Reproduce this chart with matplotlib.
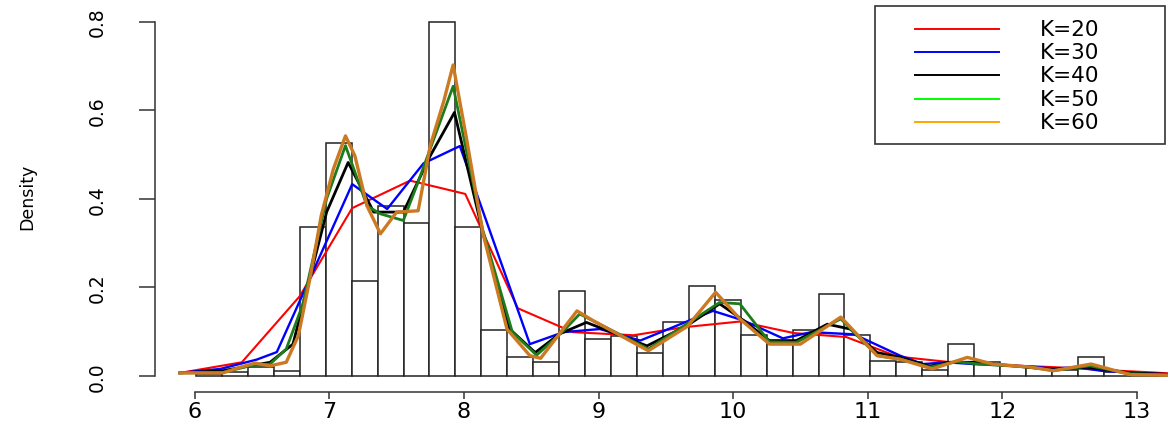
import numpy as np
import matplotlib
matplotlib.use("Agg")
import matplotlib.pyplot as plt
from matplotlib.lines import Line2D
from matplotlib.patches import Rectangle

# histogram on density scale, equal-width bins
bin_start = 6.01
bin_width = 0.1927
hist_density = [0.005, 0.008, 0.021, 0.011, 0.336, 0.526, 0.215, 0.384, 0.345, 0.798,
                0.336, 0.103, 0.042, 0.032, 0.193, 0.084, 0.091, 0.053, 0.123, 0.204,
                0.172, 0.092, 0.072, 0.103, 0.185, 0.092, 0.033, 0.032, 0.014, 0.072,
                0.031, 0.023, 0.018, 0.013, 0.042, 0.008, 0.004, 0.002]

# fitted density curves, one per K
k20_x = [5.89, 6.35, 6.78, 7.17, 7.60, 8.01, 8.40, 8.81, 9.26, 9.63, 10.05, 10.45, 10.84,
         11.22, 11.59, 11.98, 12.38, 12.73, 13.12, 13.40]
k20_y = [0.007, 0.031, 0.180, 0.379, 0.441, 0.411, 0.153, 0.099, 0.092, 0.110, 0.123, 0.097,
         0.088, 0.044, 0.032, 0.025, 0.020, 0.014, 0.008, 0.003]

k30_x = [5.89, 6.19, 6.46, 6.61, 7.17, 7.43, 7.70, 7.97, 8.49, 8.74, 9.01, 9.31, 9.85, 10.08,
         10.37, 10.58, 10.90, 11.24, 11.41, 11.59, 11.78, 12.18, 12.38, 12.55, 12.73, 12.97, 13.40]
k30_y = [0.007, 0.016, 0.037, 0.054, 0.433, 0.377, 0.480, 0.519, 0.072, 0.099, 0.106, 0.080,
         0.147, 0.125, 0.085, 0.099, 0.094, 0.046, 0.027, 0.031, 0.027, 0.022, 0.017, 0.020,
         0.012, 0.007, 0.002]

k40_x = [5.89, 6.21, 6.41, 6.56, 6.73, 6.98, 7.14, 7.33, 7.55, 7.75, 7.93, 8.14, 8.34, 8.53,
         8.71, 8.91, 9.36, 9.66, 9.90, 10.08, 10.27, 10.47, 10.70, 10.87, 11.07, 11.24, 11.46,
         11.61, 11.81, 12.38, 12.63, 12.95, 13.40]
k40_y = [0.007, 0.012, 0.023, 0.031, 0.072, 0.370, 0.482, 0.370, 0.370, 0.497, 0.595, 0.324,
         0.106, 0.053, 0.095, 0.121, 0.068, 0.114, 0.163, 0.125, 0.080, 0.080, 0.117, 0.106,
         0.053, 0.042, 0.022, 0.031, 0.031, 0.014, 0.020, 0.007, 0.002]

k50_x = [5.89, 6.21, 6.41, 6.56, 6.68, 6.80, 6.98, 7.12, 7.28, 7.38, 7.55, 7.65, 7.92, 8.14,
         8.36, 8.54, 8.74, 8.86, 9.37, 9.90, 10.05, 10.27, 10.47, 10.80, 11.07, 11.24, 11.46,
         11.66, 11.83, 12.21, 12.38, 12.65, 12.95, 13.40]
k50_y = [0.007, 0.008, 0.023, 0.027, 0.061, 0.159, 0.400, 0.520, 0.384, 0.366, 0.351, 0.430,
         0.654, 0.330, 0.099, 0.047, 0.102, 0.140, 0.061, 0.166, 0.163, 0.077, 0.076, 0.129,
         0.046, 0.038, 0.020, 0.032, 0.027, 0.020, 0.012, 0.023, 0.005, 0.001]

k60_x = [5.89, 6.21, 6.34, 6.45, 6.56, 6.68, 6.77, 6.86, 6.94, 7.03, 7.12, 7.19, 7.28, 7.38,
         7.50, 7.66, 7.75, 7.85, 7.92, 8.02, 8.14, 8.32, 8.49, 8.57, 8.84, 8.96, 9.37, 9.66,
         9.87, 10.05, 10.27, 10.50, 10.80, 11.07, 11.24, 11.48, 11.74, 11.93, 12.21, 12.38,
         12.66, 12.95, 13.40]
k60_y = [0.007, 0.007, 0.020, 0.029, 0.023, 0.031, 0.091, 0.226, 0.362, 0.467, 0.542, 0.497,
         0.384, 0.321, 0.370, 0.373, 0.520, 0.620, 0.702, 0.535, 0.324, 0.106, 0.046, 0.040,
         0.147, 0.125, 0.057, 0.112, 0.189, 0.129, 0.072, 0.072, 0.133, 0.046, 0.038, 0.016,
         0.042, 0.027, 0.020, 0.012, 0.027, 0.003, 0.001]

labels = ["K=20", "K=30", "K=40", "K=50", "K=60"]
curves = [(k20_x, k20_y), (k30_x, k30_y), (k40_x, k40_y), (k50_x, k50_y), (k60_x, k60_y)]
line_colors = ["#ff0000", "#0000ff", "#000000", "#1c7c1c", "#cc7a22"]
legend_colors = ["#ff0000", "#0000ff", "#000000", "#00ff00", "#ffa500"]
line_widths = [1.5, 1.7, 2.0, 2.0, 2.4]

xticks = [6, 7, 8, 9, 10, 11, 12, 13]
yticks = [0.0, 0.2, 0.4, 0.6, 0.8]

W, H = 1168, 427
fig = plt.figure(figsize=(W / 100, H / 100), dpi=100)
ax = fig.add_axes([155 / W, 1 - 392.7 / H, 1 - 155 / W, (392.7 - 8.4) / H])

lefts = bin_start + bin_width * np.arange(len(hist_density))
ax.bar(lefts, hist_density, width=bin_width, align="edge", color="white",
       edgecolor="#222222", linewidth=1.1, zorder=1)

for (xs, ys), c, lw in zip(curves, line_colors, line_widths):
    ax.plot(xs, ys, color=c, lw=lw, zorder=2)

ax.set_xlim(5.705, 13.231)
ax.set_ylim(-0.0354, 0.832)

for s in ["top", "right"]:
    ax.spines[s].set_visible(False)
ax.spines["left"].set_bounds(0, 0.8)
ax.spines["bottom"].set_bounds(6, 13)
for s in ["left", "bottom"]:
    ax.spines[s].set_color("#333333")
    ax.spines[s].set_linewidth(1.1)

ax.set_xticks(xticks)
ax.set_xticklabels([str(t) for t in xticks])
ax.set_yticks(yticks)
ax.set_yticklabels([f"{t:.1f}" for t in yticks])
ax.tick_params(axis="x", length=4.8, width=1.1, color="#333333", pad=2, labelsize=16)
ax.tick_params(axis="y", length=11.5, width=1.1, color="#333333", pad=30, labelsize=13.5)
for t in ax.get_yticklabels():
    t.set_rotation(90)
    t.set_ha("center")
    t.set_va("center")

ax.set_ylabel("Density", fontsize=12.5)
ax.yaxis.label.set_va("center")
ax.yaxis.set_label_coords(-0.1264, 0.509)

# legend box, drawn in figure pixels
def fx(px):
    return px / W

def fy(py):
    return 1 - py / H

fig.patches.append(Rectangle((fx(875), fy(145)), fx(1165) - fx(875), fy(7) - fy(145),
                             transform=fig.transFigure, facecolor="white",
                             edgecolor="#333333", linewidth=1.2, zorder=5))
for i, (lab, c) in enumerate(zip(labels, legend_colors)):
    yy = 30 + 23.2 * i
    fig.lines.append(Line2D([fx(915), fx(999)], [fy(yy), fy(yy)], transform=fig.transFigure,
                            color=c, lw=1.4, zorder=6))
    fig.text(fx(1040), fy(yy), lab, fontsize=15.5, ha="left", va="center", zorder=6)

fig.savefig("out.png", dpi=100)
